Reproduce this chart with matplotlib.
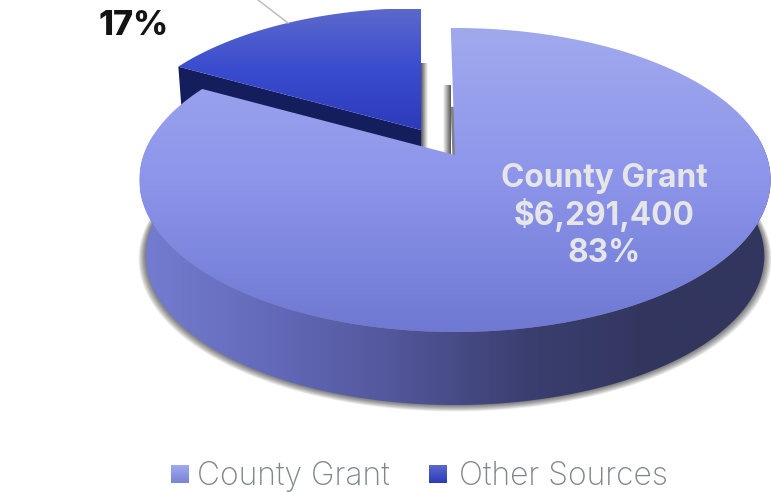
import numpy as np
import matplotlib
matplotlib.use("Agg")
import matplotlib.pyplot as plt
from matplotlib.patches import Polygon
from matplotlib.colors import LinearSegmentedColormap as LSC

categories = ["County Grant", "Other Sources"]
shares = [83, 17]
slice_labels = ["County Grant\n$6,291,400\n83%", "17%"]

W, H = 771, 492
fig = plt.figure(figsize=(W / 100, H / 100), dpi=100)
ax = fig.add_axes([0, 0, 1, 1])
ax.set_xlim(0, W)
ax.set_ylim(H, 0)
ax.axis("off")

K = 0.1645


def proj(theta, tip, scale=1.0, A=311.3, C=147.9):
    X, Y = np.cos(theta), np.sin(theta)
    d = 1 + K * Y
    return tip[0] + scale * A * X / d, tip[1] - scale * C * Y / d


def wedge(t0, t1, tip, scale=1.0):
    t = np.linspace(t0, t1, 300)
    x, y = proj(t, tip, scale)
    return np.column_stack([np.r_[tip[0], x], np.r_[tip[1], y]])


def vgrad(poly, colors, y0, y1, z):
    cm = LSC.from_list("g", colors)
    im = ax.imshow(np.linspace(0, 1, 256)[:, None], cmap=cm, aspect="auto",
                   extent=[0, W, y1, y0], zorder=z, interpolation="bilinear")
    im.set_clip_path(Polygon(poly, closed=True, transform=ax.transData))
    ax.set_xlim(0, W)
    ax.set_ylim(H, 0)


def hgrad(poly, colors, x0, x1, z):
    cm = LSC.from_list("g", colors)
    im = ax.imshow(np.linspace(0, 1, 256)[None, :], cmap=cm, aspect="auto",
                   extent=[x0, x1, H, 0], zorder=z, interpolation="bilinear")
    im.set_clip_path(Polygon(poly, closed=True, transform=ax.transData))
    ax.set_xlim(0, W)
    ax.set_ylim(H, 0)


total = sum(shares)
start = np.pi / 2
split = start - 2 * np.pi * shares[0] / total      # big slice runs clockwise
big_a = (start + np.radians(0.9), split)
small_a = (split + 2 * np.pi, start)

tip_big = (455, 155)
tip_big_low = (455, 231.5)
tip_small = (421, 130)

# soft shadow under the big slice wall
for delta in np.linspace(7, 0.5, 9):
    low = wedge(big_a[0], big_a[1], (tip_big_low[0], tip_big_low[1] + 0.35 * delta),
                0.98 + delta / 311)
    ax.add_patch(Polygon(low, closed=True, fc="#000000", alpha=0.07,
                         ec="none", zorder=1))

# small slice: wall, shadow, top
s_top = wedge(small_a[0], small_a[1], tip_small, 0.96)
sx, sy = s_top[1, 0], s_top[1, 1]
wall = np.array([[sx, sy], [sx + 3, sy + 40], [421, 176], tip_small])
ax.add_patch(Polygon(wall, closed=True, fc="#151E5C", ec="none", zorder=2))
# shadows in the gap
shadow1 = np.array([[421, 63], [428, 63], [428, 150], [421, 150]])
hgrad(shadow1, ["#555555", "#FFFFFF"], 421, 428, 2)
shadow2 = np.array([[443, 85], [453, 85], [455, 158], [443, 158]])
hgrad(shadow2, ["#FFFFFF", "#555555"], 443, 451, 2)
vgrad(s_top, ["#5B69CC", "#3A4CCF", "#2C3BBB"], 9, 130, 3)

# big slice: wall and top
t = np.linspace(np.radians(8), np.radians(-188), 400)
xt, yt = proj(t, tip_big)
xb, yb = proj(t, tip_big_low, 0.98)
band = np.column_stack([np.r_[xt, xb[::-1]], np.r_[yt, yb[::-1]]])
hgrad(band, ["#747DD0", "#646ABA", "#52569A", "#3B3F70", "#32365E", "#32365E"],
      140, 780, 4)
b_top = wedge(big_a[0], big_a[1], tip_big)
vgrad(b_top, ["#A1A9EE", "#8C95EA", "#6F78D2"], 28, 332, 5)

# leader line
ax.plot([258, 288], [0, 23], color="#BDBDBD", lw=1.1, zorder=6, clip_on=False)

# labels
for line, yy in zip(slice_labels[0].split("\n"), [178, 215, 254]):
    ax.text(604, yy, line, color="#E6E6E6", fontsize=22.8, family="Inter",
            fontweight="bold", ha="center", va="center", zorder=7)
ax.text(133.5, 26, slice_labels[1], color="#141414", fontsize=24.5, family="Inter",
        fontweight="heavy", ha="center", va="center", zorder=7)

# legend
legend_cols = [["#A1A9EE", "#7A83D6"], ["#5B69CC", "#2C3BBB"]]
for name, cols, xs, xt_ in zip(categories, legend_cols, [171, 429], [197, 459]):
    sq = np.array([[xs, 465], [xs + 18, 465], [xs + 18, 483], [xs, 483]])
    vgrad(sq, cols, 465, 483, 7)
    ax.text(xt_, 476, name, color="#7F8789", fontsize=22.9, family="Inter",
            fontweight="light", ha="left", va="center", zorder=7)

fig.savefig("out.png", dpi=100)
